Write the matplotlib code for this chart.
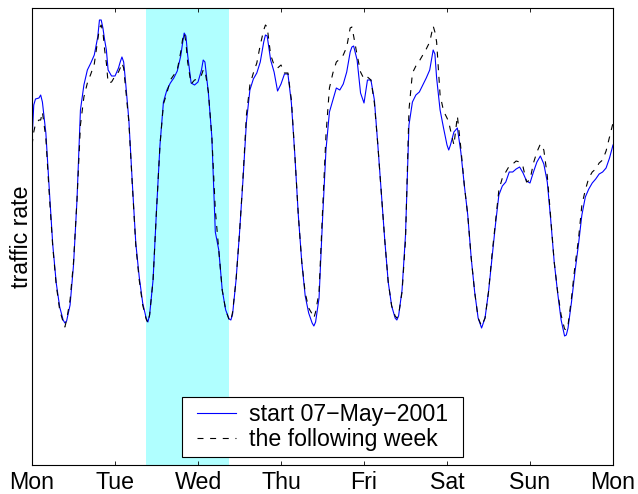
import matplotlib
matplotlib.use("Agg")
import matplotlib.pyplot as plt
from matplotlib.patches import Rectangle
from matplotlib.transforms import IdentityTransform

# ---- data (hours since Monday 00:00, traffic rate in arbitrary units) ----
hours = [
    0, 0.5, 1, 2, 2.5, 3, 4, 5, 6, 7, 8, 9, 9.5, 10, 11, 12,
    13, 14, 15, 16, 17, 18, 19, 19.5, 20, 20.5, 21, 21.5, 22, 23, 24,
    25, 25.5, 26, 26.5, 27, 28, 29, 30, 31, 32, 33, 33.5, 34, 35, 36,
    37, 38, 39, 40, 41, 42, 43, 43.5, 44, 44.5, 45, 46, 47, 48,
    49, 49.5, 50, 51, 52, 53, 54, 55, 56, 57, 57.5, 58, 59, 60,
    61, 62, 63, 64, 65, 66, 67, 67.5, 68, 69, 70, 71, 72,
    73, 74, 75, 76, 77, 78, 79, 80, 81, 81.5, 82, 83, 84,
    85, 86, 87, 88, 89, 90, 91, 92, 92.5, 93, 94, 95, 96,
    97, 98, 99, 100, 101, 102, 103, 104, 105, 105.5, 106, 107, 108,
    109, 110, 111, 112, 113, 114, 115, 116, 116.5, 117, 118, 119, 120,
    120.5, 121, 122, 123, 124, 125, 126, 127, 128, 129, 130, 131, 132,
    133, 134, 135, 136, 137, 138, 139, 140, 141, 142, 143, 144,
    145, 146, 147, 148, 149, 150, 151, 152, 153, 154, 154.5, 155, 156,
    157, 158, 159, 160, 161, 162, 163, 164, 165, 166, 167, 168,
]

week1 = [
    325, 360, 366, 367, 370, 363, 332, 275, 220, 182, 158, 145, 142, 144, 160, 200,
    265, 355, 380, 395, 402, 410, 428, 445, 445, 437, 425, 415, 395, 389, 389,
    397, 403, 408, 403, 385, 345, 282, 222, 188, 162, 147, 143, 150, 185, 255,
    320, 363, 375, 382, 387, 394, 409, 421, 432, 429, 410, 382, 380, 383,
    395, 405, 403, 372, 328, 233, 215, 175, 155, 146, 145, 151, 185, 232,
    285, 343, 375, 386, 392, 403, 423, 430, 429, 405, 393, 374, 381,
    391, 391, 362, 310, 250, 203, 169, 152, 142, 139, 143, 167, 245,
    315, 353, 365, 377, 375, 381, 393, 413, 418, 419, 405, 372, 362,
    385, 385, 365, 320, 273, 225, 183, 159, 147, 145, 149, 175, 230,
    340, 363, 370, 373, 380, 387, 395, 415, 411, 387, 355, 337, 320,
    315, 320, 333, 337, 313, 280, 250, 207, 173, 147, 137, 147, 173,
    207, 240, 270, 279, 283, 293, 293, 296, 298, 292, 284, 282,
    293, 303, 309, 301, 283, 245, 203, 172, 145, 129, 130, 137, 163,
    193, 220, 250, 268, 276, 282, 286, 291, 293, 297, 307, 320,
]

week2 = [
    320, 333, 341, 345, 345, 353, 327, 270, 218, 180, 155, 143, 138, 145, 165, 203,
    265, 340, 368, 382, 391, 401, 425, 437, 440, 433, 415, 402, 382, 383, 389,
    393, 397, 402, 397, 379, 343, 280, 220, 185, 160, 146, 142, 150, 185, 255,
    320, 361, 372, 385, 390, 395, 413, 425, 432, 423, 403, 381, 385, 386,
    390, 395, 395, 373, 328, 255, 215, 175, 155, 145, 144, 153, 185, 232,
    287, 350, 380, 392, 402, 420, 435, 440, 438, 410, 400, 397, 400,
    392, 392, 365, 310, 250, 203, 172, 157, 151, 147, 153, 173, 253,
    330, 377, 392, 403, 406, 410, 418, 437, 438, 429, 410, 393, 386,
    388, 385, 362, 320, 273, 225, 183, 159, 149, 147, 150, 173, 225,
    355, 392, 399, 404, 410, 416, 423, 439, 433, 423, 370, 354, 347,
    343, 335, 320, 349, 317, 280, 250, 207, 173, 147, 139, 147, 173,
    210, 243, 275, 287, 293, 299, 301, 304, 303, 298, 283, 285,
    302, 313, 321, 315, 289, 247, 203, 173, 150, 136, 135, 140, 167,
    199, 225, 260, 275, 287, 293, 296, 302, 305, 314, 328, 342,
]

day_labels = ["Mon", "Tue", "Wed", "Thu", "Fri", "Sat", "Sun", "Mon"]
day_ticks = [0, 24, 48, 72, 96, 120, 144, 168]
highlight = (33, 57)   # highlighted 24 h window (hours)
series_labels = ["start 07\u2212May\u22122001", "the following week"]

# ---- plot ----
plt.rcParams["font.family"] = ["Liberation Sans", "DejaVu Sans"]
plt.rcParams["lines.scale_dashes"] = False
FS = 16.7

fig = plt.figure(figsize=(6.38, 4.94), dpi=100)
ax = fig.add_axes([0.0502, 0.0587, 0.9106, 0.9251])

ax.axvspan(highlight[0], highlight[1], color="#b0ffff", lw=0, zorder=0)
ax.plot(hours, week1, color="#0000ff", lw=0.8, label=series_labels[0], zorder=2)
ax.plot(hours, week2, color="black", lw=0.8, linestyle=(0, (4.3, 4.8)),
        label=series_labels[1], zorder=3)

ax.set_xlim(0, 168)
ax.set_ylim(0, 457)
ax.set_xticks(day_ticks)
ax.set_xticklabels(day_labels)
ax.set_yticks([])
ax.tick_params(axis="x", direction="in", length=3, width=0.6, labelsize=FS,
               pad=4, top=True)
ax.set_ylabel("traffic rate", fontsize=FS, labelpad=-1)
for s in ax.spines.values():
    s.set_linewidth(0.8)

leg = ax.legend(loc="lower center", fontsize=FS, frameon=False,
                borderaxespad=0.35, handlelength=1.7, handletextpad=0.55,
                labelspacing=0.1, borderpad=0.25)
leg.set_zorder(6)

# legend frame: wider horizontal padding than vertical (MATLAB style)
fig.canvas.draw()
bb = leg.get_window_extent()
dx = 9
frame = Rectangle((bb.x0 - dx, bb.y0), bb.width + 2 * dx, bb.height,
                  transform=IdentityTransform(), facecolor="white",
                  edgecolor="black", lw=0.8, zorder=5)
ax.add_artist(frame)

fig.savefig("out.png", dpi=100)
